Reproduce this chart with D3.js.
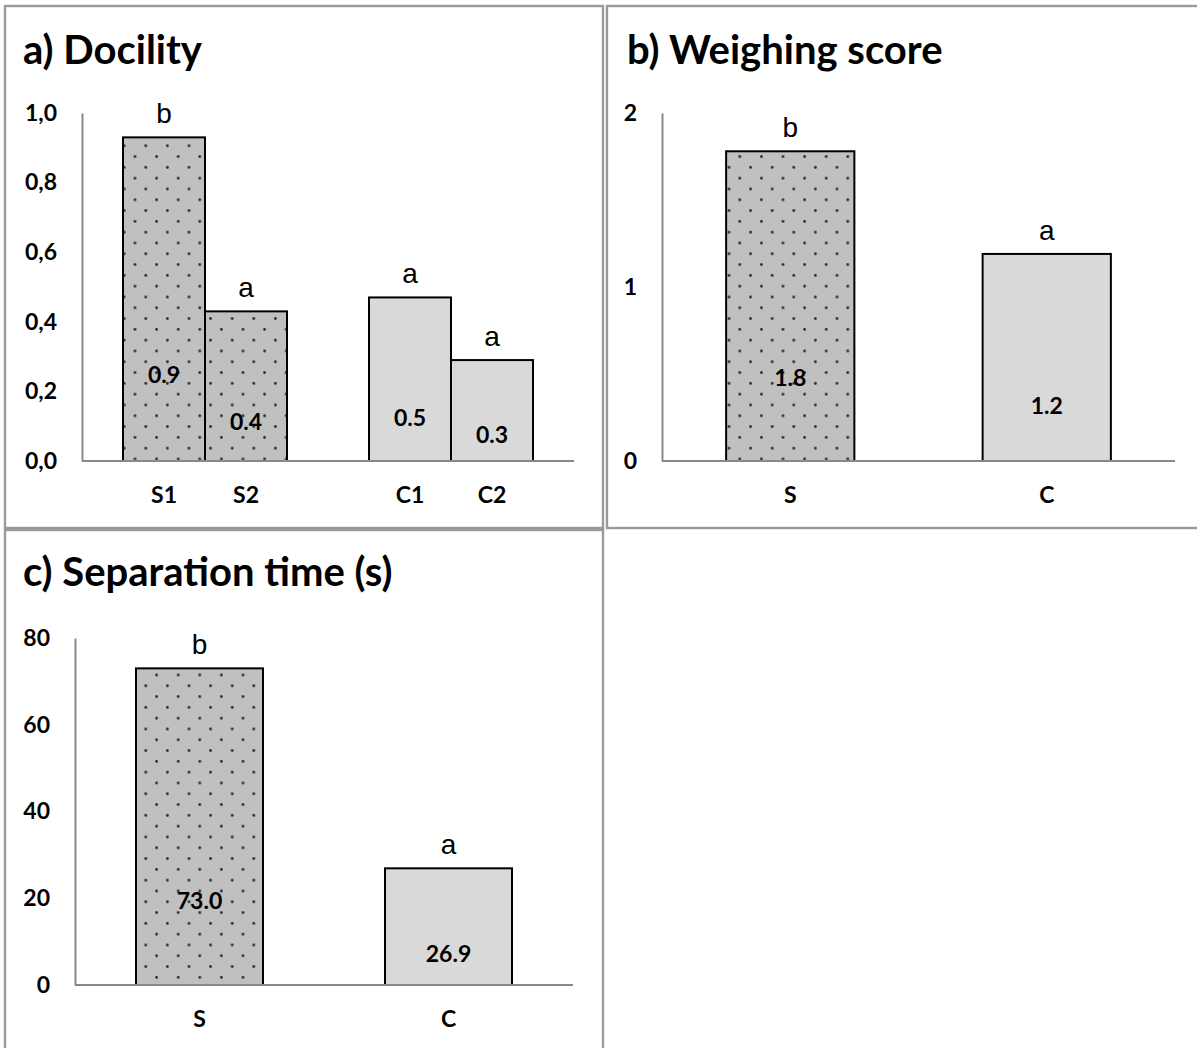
<!DOCTYPE html>
<html>
<head>
<meta charset="utf-8">
<script src="https://cdn.jsdelivr.net/npm/d3@7"></script>
<style>
  body { margin: 0; background: #fff; }
  svg { display: block; }
  .title { font-family: Lato, "Open Sans", sans-serif; font-weight: 700; font-size: 40px; fill: #000; }
  .tick-label, .cat-label, .val-label { font-family: Lato, sans-serif; font-weight: 700; font-size: 23px; fill: #000; }
  .letter { font-family: "Liberation Sans", Arial, sans-serif; font-size: 28px; fill: #000; }
</style>
</head>
<body>
<div id="chart"></div>
<script>
// a) Docility
const docCategories = ["S1", "S2", "C1", "C2"];
const docValues = [0.93, 0.43, 0.47, 0.29];
const docLetters = ["b", "a", "a", "a"];
const docGroups = ["S", "S", "C", "C"];
const docTicks = [0, 0.2, 0.4, 0.6, 0.8, 1.0];

// b) Weighing score
const wsCategories = ["S", "C"];
const wsValues = [1.78, 1.19];
const wsLetters = ["b", "a"];
const wsTicks = [0, 1, 2];

// c) Separation time (s)
const stCategories = ["S", "C"];
const stValues = [73.0, 26.9];
const stLetters = ["b", "a"];
const stTicks = [0, 20, 40, 60, 80];

const W = 1197, H = 1048;

const svg = d3.select("#chart").append("svg")
  .attr("width", W)
  .attr("height", H);

// dotted pattern for the S bars
const defs = svg.append("defs");
const pat = defs.append("pattern")
  .attr("id", "dots")
  .attr("patternUnits", "userSpaceOnUse")
  .attr("width", 21.6)
  .attr("height", 21.6);
pat.append("rect").attr("width", 21.6).attr("height", 21.6).attr("fill", "#c0c0c0");
pat.append("circle").attr("cx", 5.4).attr("cy", 5.4).attr("r", 1.4).attr("fill", "#2a2a2a");
pat.append("circle").attr("cx", 16.2).attr("cy", 16.2).attr("r", 1.4).attr("fill", "#2a2a2a");

const fillFor = (g) => (g === "S" ? "url(#dots)" : "#d9d9d9");

// panel frames
const frames = [
  { x: 5, y: 6, w: 598, h: 522 },
  { x: 607, y: 6, w: 600, h: 522 },
  { x: 5, y: 530, w: 598, h: 530 },
];
svg.selectAll(".frame")
  .data(frames)
  .join("rect")
  .attr("class", "frame")
  .attr("x", (d) => d.x)
  .attr("y", (d) => d.y)
  .attr("width", (d) => d.w)
  .attr("height", (d) => d.h)
  .attr("fill", "none")
  .attr("stroke", "#9a9a9a")
  .attr("stroke-width", 2.4);

function drawPanel(cfg) {
  const g = svg.append("g");

  g.append("text")
    .attr("class", "title")
    .attr("x", cfg.titleX)
    .attr("y", cfg.titleY)
    .text(cfg.title);

  const y = d3.scaleLinear()
    .domain([0, cfg.max])
    .range([cfg.base, cfg.top]);

  const x = d3.scaleBand()
    .domain(cfg.domain)
    .range([cfg.left, cfg.right])
    .paddingInner(cfg.padIn)
    .paddingOuter(cfg.padOut);

  const rows = cfg.categories.map((c, i) => ({
    cat: c,
    value: cfg.values[i],
    letter: cfg.letters[i],
    group: cfg.groups[i],
  }));

  // bars
  g.selectAll(".bar")
    .data(rows)
    .join("rect")
    .attr("class", "bar")
    .attr("x", (d) => x(d.cat))
    .attr("y", (d) => y(d.value))
    .attr("width", x.bandwidth())
    .attr("height", (d) => y(0) - y(d.value))
    .attr("fill", (d) => fillFor(d.group))
    .attr("stroke", "#000")
    .attr("stroke-width", 2);

  // y axis: line only, bold labels
  const yAxis = g.append("g")
    .attr("transform", `translate(${cfg.left},0)`)
    .call(
      d3.axisLeft(y)
        .tickValues(cfg.ticks)
        .tickSize(0)
        .tickSizeOuter(0)
        .tickPadding(25)
        .tickFormat(cfg.tickFormat)
    );
  yAxis.attr("font-size", null).attr("font-family", null);
  yAxis.select(".domain").attr("stroke", "#898989").attr("stroke-width", 2);
  yAxis.selectAll("text").attr("class", "tick-label").attr("fill", null);

  // baseline
  g.append("line")
    .attr("x1", cfg.left)
    .attr("x2", cfg.right)
    .attr("y1", y(0))
    .attr("y2", y(0))
    .attr("stroke", "#898989")
    .attr("stroke-width", 2);

  // category labels
  g.selectAll(".cat-label")
    .data(rows)
    .join("text")
    .attr("class", "cat-label")
    .attr("x", (d) => x(d.cat) + x.bandwidth() / 2)
    .attr("y", y(0) + 33)
    .attr("text-anchor", "middle")
    .attr("dominant-baseline", "central")
    .text((d) => d.cat);

  // values inside bars
  g.selectAll(".val-label")
    .data(rows)
    .join("text")
    .attr("class", "val-label")
    .attr("x", (d) => x(d.cat) + x.bandwidth() / 2)
    .attr("y", (d) => y(d.value * 0.27))
    .attr("text-anchor", "middle")
    .attr("dominant-baseline", "central")
    .text((d) => cfg.valueFormat(d.value));

  // significance letters
  g.selectAll(".letter")
    .data(rows)
    .join("text")
    .attr("class", "letter")
    .attr("x", (d) => x(d.cat) + x.bandwidth() / 2)
    .attr("y", (d) => y(d.value) - 14)
    .attr("text-anchor", "middle")
    .text((d) => d.letter);
}

const commaFmt = (d) => d3.format(".1f")(d).replace(".", ",");

drawPanel({
  title: "a) Docility",
  titleX: 23, titleY: 64,
  categories: docCategories,
  domain: ["S1", "S2", "gap", "C1", "C2"],
  values: docValues,
  letters: docLetters,
  groups: docGroups,
  ticks: docTicks,
  max: 1.0,
  top: 113, base: 461,
  left: 82, right: 574,
  padIn: 0, padOut: 0.5,
  tickFormat: commaFmt,
  valueFormat: d3.format(".1f"),
});

drawPanel({
  title: "b) Weighing score",
  titleX: 627, titleY: 64,
  categories: wsCategories,
  domain: wsCategories,
  values: wsValues,
  letters: wsLetters,
  groups: ["S", "C"],
  ticks: wsTicks,
  max: 2,
  top: 113, base: 461,
  left: 662, right: 1175,
  padIn: 0.5, padOut: 0.25,
  tickFormat: d3.format("d"),
  valueFormat: d3.format(".1f"),
});

drawPanel({
  title: "c) Separation time (s)",
  titleX: 23, titleY: 586,
  categories: stCategories,
  domain: stCategories,
  values: stValues,
  letters: stLetters,
  groups: ["S", "C"],
  ticks: stTicks,
  max: 80,
  top: 638, base: 985,
  left: 75, right: 573,
  padIn: 0.49, padOut: 0.245,
  tickFormat: d3.format("d"),
  valueFormat: d3.format(".1f"),
});
</script>
</body>
</html>
